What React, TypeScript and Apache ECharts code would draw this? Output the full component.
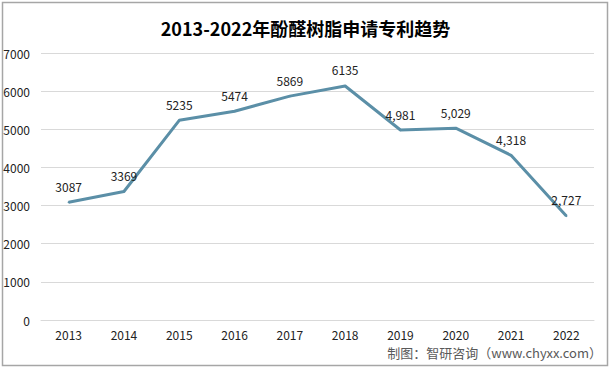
import React, { useEffect, useRef } from "react";
import * as echarts from "echarts";

const years = ["2013", "2014", "2015", "2016", "2017", "2018", "2019", "2020", "2021", "2022"];
const patents = [3087, 3369, 5235, 5474, 5869, 6135, 4981, 5029, 4318, 2727];
const pointLabels = ["3087", "3369", "5235", "5474", "5869", "6135", "4,981", "5,029", "4,318", "2,727"];
const titleText = "2013-2022年酚醛树脂申请专利趋势";
const sourceText = "制图：智研咨询（www.chyxx.com）";

export default function App() {
  const ref = useRef<HTMLDivElement>(null);
  useEffect(() => {
    document.body.style.margin = "0";
    if (!ref.current) return;
    const chart = echarts.init(ref.current, null, { renderer: "svg" });
    const font = "'Microsoft YaHei', 'Noto Sans CJK SC', 'Noto Sans', sans-serif";
    chart.setOption({
      animation: false,
      backgroundColor: "#ffffff",
      title: {
        text: titleText,
        left: "center",
        top: 14,
        textStyle: { fontSize: 18, fontWeight: "bold", color: "#000", fontFamily: font },
      },
      grid: { left: 41, right: 17, top: 53, bottom: 49 },
      xAxis: {
        type: "category",
        data: years,
        boundaryGap: true,
        axisLine: { show: true, lineStyle: { color: "#d9d9d9", width: 1 } },
        axisTick: { show: false },
        axisLabel: { color: "#222", fontSize: 12, margin: 8, fontFamily: font },
      },
      yAxis: {
        type: "value",
        min: 0,
        max: 7000,
        interval: 1000,
        axisLine: { show: false },
        axisTick: { show: false },
        axisLabel: {
          color: "#222",
          fontSize: 12,
          margin: 11,
          fontFamily: font,
          formatter: (v: number) => String(v),
        },
        splitLine: { lineStyle: { color: "#d9d9d9", width: 1 } },
      },
      series: [
        {
          type: "line",
          data: patents,
          showSymbol: true,
          symbol: "circle",
          symbolSize: 2,
          lineStyle: { color: "#5b8fa7", width: 3 },
          itemStyle: { color: "#5b8fa7" },
          label: {
            show: true,
            position: "top",
            distance: 9,
            color: "#222",
            fontSize: 12,
            fontFamily: font,
            formatter: (p: any) => pointLabels[p.dataIndex],
          },
        },
      ],
      graphic: [
        {
          type: "rect",
          shape: { x: 2.5, y: 2.5, width: 605, height: 363 },
          style: { fill: "none", stroke: "#a6a6a6", lineWidth: 1.5 },
          silent: true,
        },
        {
          type: "text",
          right: 9,
          top: 346,
          style: { text: sourceText, fontSize: 13, fill: "#595959", fontFamily: font },
        },
      ],
    });
    return () => chart.dispose();
  }, []);
  return <div ref={ref} style={{ width: 611, height: 369 }} />;
}
